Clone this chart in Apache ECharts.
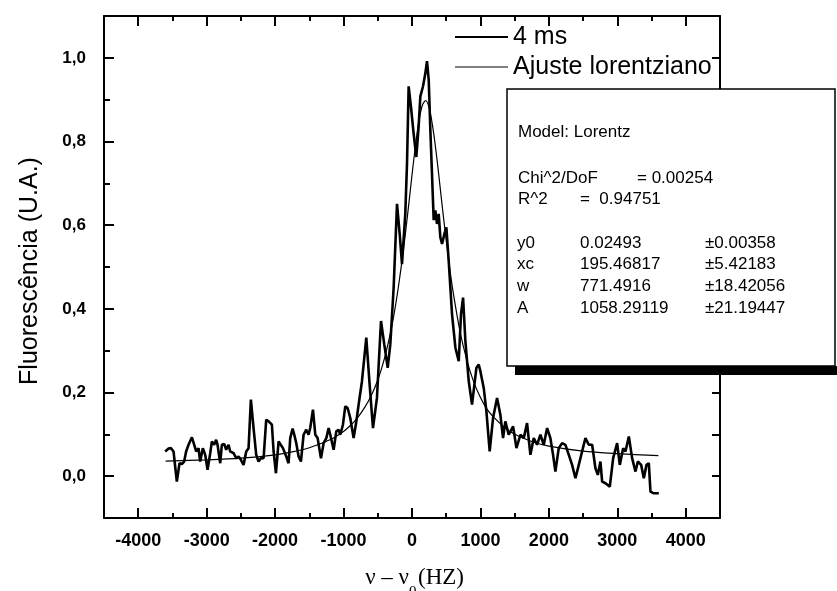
<!DOCTYPE html>
<html><head><meta charset="utf-8">
<script src="https://cdn.jsdelivr.net/npm/echarts@6/dist/echarts.min.js"></script>
<style>html,body{margin:0;padding:0;background:#fff}#c{width:837px;height:591px}</style>
</head><body><div id="c"></div>
<script>
// ---- data ----
const seriesNames = ['4 ms', 'Ajuste lorentziano'];
const dataX = [-3606,-3557,-3523,-3484,-3436,-3397,-3363,-3329,-3300,-3265,-3216,-3182,-3153,-3119,-3095,-3056,-3021,-2987,-2948,-2924,-2890,-2861,-2841,-2802,-2778,-2744,-2715,-2680,-2656,-2607,-2568,-2534,-2500,-2461,-2422,-2388,-2354,-2315,-2276,-2242,-2208,-2168,-2130,-2095,-2071,-2047,-2022,-1988,-1949,-1925,-1886,-1837,-1803,-1779,-1744,-1720,-1691,-1657,-1623,-1584,-1545,-1511,-1487,-1447,-1413,-1379,-1330,-1291,-1252,-1218,-1194,-1145,-1106,-1072,-1048,-1009,-975,-941,-902,-853,-814,-780,-731,-668,-619,-570,-512,-453,-405,-355,-317,-268,-219,-180,-146,-98,-73,-49,-15,24,63,97,122,161,195,219,244,268,292,317,341,365,390,414,439,473,502,536,585,634,683,716,746,780,829,877,941,975,999,1048,1087,1135,1184,1243,1291,1330,1364,1413,1477,1526,1584,1633,1681,1730,1779,1827,1876,1925,1974,2022,2061,2095,2144,2193,2242,2291,2339,2388,2437,2485,2534,2583,2632,2680,2715,2753,2778,2827,2890,2939,2997,3036,3085,3119,3168,3216,3265,3300,3348,3387,3426,3460,3484,3533,3606];
const dataY = [0.059,0.066,0.067,0.059,-0.013,0.031,0.029,0.035,0.059,0.075,0.093,0.075,0.059,0.067,0.035,0.067,0.051,0.015,0.055,0.083,0.075,0.087,0.075,0.031,0.075,0.077,0.063,0.075,0.059,0.055,0.043,0.047,0.039,0.027,0.059,0.067,0.183,0.115,0.051,0.035,0.043,0.043,0.135,0.131,0.133,0.123,0.059,0.007,0.083,0.087,0.067,0.047,0.031,0.091,0.114,0.099,0.079,0.047,0.035,0.099,0.111,0.099,0.115,0.159,0.099,0.091,0.043,0.079,0.091,0.115,0.099,0.063,0.107,0.111,0.099,0.123,0.167,0.163,0.139,0.091,0.130,0.171,0.227,0.331,0.219,0.115,0.187,0.371,0.315,0.259,0.315,0.451,0.651,0.579,0.507,0.627,0.747,0.932,0.883,0.819,0.763,0.836,0.908,0.932,0.963,0.992,0.948,0.828,0.723,0.612,0.635,0.603,0.627,0.571,0.555,0.579,0.595,0.515,0.387,0.307,0.275,0.387,0.427,0.323,0.227,0.171,0.259,0.267,0.251,0.211,0.155,0.059,0.139,0.187,0.147,0.091,0.131,0.099,0.119,0.067,0.099,0.091,0.127,0.051,0.091,0.075,0.099,0.075,0.115,0.091,0.051,0.011,0.067,0.079,0.075,0.051,0.027,-0.005,0.027,0.059,0.091,0.075,0.075,0.019,0.003,0.035,-0.013,-0.017,-0.025,0.043,0.079,0.027,0.067,0.059,0.095,0.043,0.011,0.035,0.027,-0.005,0.027,0.031,-0.037,-0.041,-0.041];
const fitX = [-3600,-3000,-2500,-2000,-1750,-1500,-1200,-1000,-900,-800,-700,-600,-500,-400,-300,-250,-200,-150,-100,-50,0,50,100,150,200,250,300,350,400,450,500,550,600,700,800,900,1000,1100,1200,1350,1500,1750,2000,2500,3000,3600];
const fitY = [0.036,0.039,0.043,0.051,0.058,0.068,0.087,0.107,0.121,0.139,0.162,0.191,0.230,0.283,0.354,0.399,0.451,0.510,0.575,0.646,0.720,0.789,0.848,0.886,0.898,0.881,0.838,0.778,0.707,0.633,0.563,0.498,0.441,0.347,0.278,0.226,0.188,0.159,0.140,0.117,0.100,0.083,0.072,0.060,0.054,0.049];
const xMajorTicks = [-4000,-3000,-2000,-1000,0,1000,2000,3000,4000];
const xMinorTicks = [-3500,-2500,-1500,-500,500,1500,2500,3500];
const yMajorTicks = [0,0.2,0.4,0.6,0.8,1.0];
const yMinorTicks = [0.1,0.3,0.5,0.7,0.9];
const fitInfo = [
  ['y0', '0.02493', '\u00b10.00358'],
  ['xc', '195.46817', '\u00b15.42183'],
  ['w', '771.4916', '\u00b118.42056'],
  ['A', '1058.29119', '\u00b121.19447']
];

// ---- chart ----
const SANS = '"Liberation Sans", Arial, sans-serif';
const SERIF = '"Liberation Serif", "Times New Roman", serif';
const black = '#000';
const chart = echarts.init(document.getElementById('c'), null, {renderer: 'canvas'});

function xAx(pos, ticks, len, lineShow, labels) {
  return {
    type: 'value', position: pos, min: -4500, max: 4500,
    axisLine: {show: lineShow, onZero: false, lineStyle: {color: black, width: 2}},
    axisTick: {show: true, inside: true, length: len, customValues: ticks, lineStyle: {color: black, width: 2}},
    axisLabel: labels ? {show: true, customValues: xMajorTicks, color: black, fontSize: 18, fontWeight: 'bold', fontFamily: SANS, margin: 14,
      formatter: v => String(Math.round(v))} : {show: false},
    splitLine: {show: false}
  };
}
function yAx(pos, ticks, len, lineShow, labels) {
  return {
    type: 'value', position: pos, min: -0.1, max: 1.1,
    axisLine: {show: lineShow, onZero: false, lineStyle: {color: black, width: 2}},
    axisTick: {show: true, inside: true, length: len, customValues: ticks, lineStyle: {color: black, width: 2}},
    axisLabel: labels ? {show: true, customValues: yMajorTicks, color: black, fontSize: 17, fontWeight: 'bold', fontFamily: SANS, margin: 18,
      formatter: v => v.toFixed(1).replace('.', ',')} : {show: false},
    splitLine: {show: false}
  };
}

const graphics = [
  {type: 'text', x: 30, y: 271, rotation: Math.PI / 2,
   style: {text: 'Fluoresc\u00eancia (U.A.)', fontSize: 25, fontFamily: SANS, fill: black, align: 'center', verticalAlign: 'middle'}},
  {type: 'text', x: 409, y: 578, style: {text: '\u03bd \u2013 \u03bd', fontSize: 23, fontFamily: SERIF, fill: black, align: 'right', verticalAlign: 'middle'}},
  {type: 'text', x: 418, y: 578, style: {text: '(HZ)', fontSize: 23, fontFamily: SERIF, fill: black, align: 'left', verticalAlign: 'middle'}},
  {type: 'text', x: 409, y: 585, style: {text: '0', fontSize: 15, fontFamily: SERIF, fill: black, align: 'left', verticalAlign: 'top'}},
  {type: 'line', shape: {x1: 455, y1: 37, x2: 508, y2: 37}, style: {stroke: black, lineWidth: 2}},
  {type: 'line', shape: {x1: 455, y1: 67, x2: 508, y2: 67}, style: {stroke: black, lineWidth: 1}},
  {type: 'text', x: 513, y: 37, style: {text: seriesNames[0], fontSize: 25, fontFamily: SANS, fill: black, verticalAlign: 'middle'}},
  {type: 'text', x: 513, y: 67, style: {text: seriesNames[1], fontSize: 25, fontFamily: SANS, fill: black, verticalAlign: 'middle'}},
  {type: 'rect', z: 100, shape: {x: 515, y: 366, width: 322, height: 9}, style: {fill: black}},
  {type: 'rect', z: 101, shape: {x: 507, y: 89, width: 328, height: 277}, style: {fill: '#fff', stroke: black, lineWidth: 1.5}},
  {type: 'text', z: 102, x: 518, y: 132, style: {text: 'Model: Lorentz', fontSize: 17, fontFamily: SANS, fill: black, verticalAlign: 'middle'}},
  {type: 'text', z: 102, x: 518, y: 178, style: {text: 'Chi^2/DoF', fontSize: 17, fontFamily: SANS, fill: black, verticalAlign: 'middle'}},
  {type: 'text', z: 102, x: 637, y: 178, style: {text: '= 0.00254', fontSize: 17, fontFamily: SANS, fill: black, verticalAlign: 'middle'}},
  {type: 'text', z: 102, x: 518, y: 199, style: {text: 'R^2', fontSize: 17, fontFamily: SANS, fill: black, verticalAlign: 'middle'}},
  {type: 'text', z: 102, x: 580, y: 199, style: {text: '=  0.94751', fontSize: 17, fontFamily: SANS, fill: black, verticalAlign: 'middle'}}
];
fitInfo.forEach((row, i) => {
  const y = 243 + i * 21.7;
  [517, 580, 705].forEach((x, j) => {
    graphics.push({type: 'text', z: 102, x: x, y: y, style: {text: row[j], fontSize: 17, fontFamily: SANS, fill: black, verticalAlign: 'middle'}});
  });
});

chart.setOption({
  animation: false,
  backgroundColor: '#fff',
  grid: {left: 104, right: 117, top: 16, bottom: 73, outerBoundsMode: 'none'},
  xAxis: [
    xAx('bottom', xMajorTicks, 10, true, true),
    xAx('bottom', xMinorTicks, 5, false, false),
    xAx('top', xMajorTicks, 10, true, false),
    xAx('top', xMinorTicks, 5, false, false)
  ],
  yAxis: [
    yAx('left', yMajorTicks, 10, true, true),
    yAx('left', yMinorTicks, 6, false, false),
    yAx('right', yMajorTicks, 8, true, false),
    yAx('right', yMinorTicks, 8, false, false)
  ],
  series: [
    {name: seriesNames[0], type: 'line', xAxisIndex: 0, yAxisIndex: 0, symbol: 'none', z: 3,
     lineStyle: {color: black, width: 2.6}, itemStyle: {color: black},
     data: dataX.map((x, i) => [x, dataY[i]])},
    {name: seriesNames[1], type: 'line', xAxisIndex: 0, yAxisIndex: 0, symbol: 'none', smooth: 0.3, z: 4,
     lineStyle: {color: black, width: 1.2}, itemStyle: {color: black},
     data: fitX.map((x, i) => [x, fitY[i]])}
  ],
  graphic: graphics
});
</script>
</body></html>
